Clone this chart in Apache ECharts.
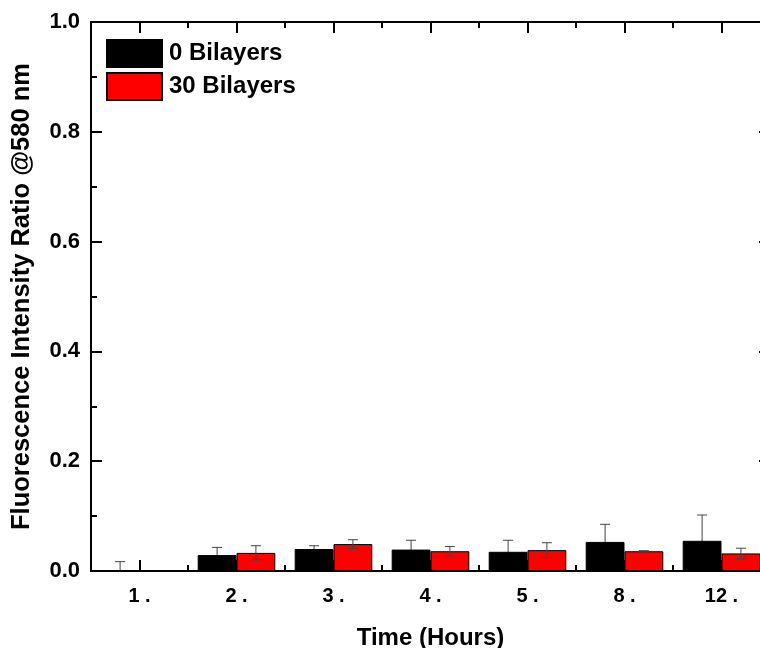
<!DOCTYPE html>
<html>
<head>
<meta charset="utf-8">
<script src="https://cdn.jsdelivr.net/npm/echarts@6/dist/echarts.min.js"></script>
<style>
html,body{margin:0;padding:0;background:#fff;}
#chart{width:760px;height:648px;}
</style>
</head>
<body>
<div id="chart"></div>
<script>
const categories = ['1 .', '2 .', '3 .', '4 .', '5 .', '8 .', '12 .'];
const bilayer0 = [0, 0.029, 0.040, 0.039, 0.035, 0.053, 0.055];
const bilayer0Err = [0.017, 0.014, 0.006, 0.017, 0.021, 0.032, 0.047];
const bilayer30 = [0, 0.033, 0.049, 0.036, 0.038, 0.036, 0.032];
const bilayer30Err = [0, 0.013, 0.008, 0.0085, 0.0135, 0.001, 0.0095];
const yTicks = [0, 0.2, 0.4, 0.6, 0.8, 1.0];

const FONT = 'Liberation Sans, Arial, sans-serif';

function errData(vals, errs) {
  return vals.map((v, i) => [i, v, errs[i]]);
}
function errRender(sign) {
  return function (params, api) {
    const x = api.value(0), y = api.value(1), e = api.value(2);
    if (!e) return null;
    const band = api.size([1, 0])[0];
    const off = sign * band * 0.2;
    const top = api.coord([x, y + e]);
    const bot = api.coord([x, y - e]);
    const cx = top[0] + off;
    const cap = 5;
    const st = { stroke: '#444', lineWidth: 1 };
    return {
      type: 'group',
      children: [
        { type: 'line', shape: { x1: cx, y1: top[1], x2: cx, y2: bot[1] }, style: st },
        { type: 'line', shape: { x1: cx - cap, y1: top[1], x2: cx + cap, y2: top[1] }, style: st },
        { type: 'line', shape: { x1: cx - cap, y1: bot[1], x2: cx + cap, y2: bot[1] }, style: st }
      ]
    };
  };
}

const chart = echarts.init(document.getElementById('chart'), null, { renderer: 'canvas' });
const axisLineStyle = { color: '#000', width: 2 };
const majorTick = { show: true, inside: true, alignWithLabel: true, interval: 0, length: 11, lineStyle: { color: '#000', width: 2 } };
const minorCatTick = { show: true, inside: true, alignWithLabel: false, interval: 0, length: 6, lineStyle: { color: '#000', width: 2 } };
const option = {
  animation: false,
  backgroundColor: '#fff',
  textStyle: { fontFamily: FONT },
  grid: { left: 91, width: 679, top: 22, height: 549, containLabel: false, outerBoundsMode: 'none' },
  legend: {
    orient: 'vertical',
    left: 101,
    top: 34,
    itemWidth: 55,
    itemHeight: 27,
    itemGap: 4,
    icon: 'rect',
    textStyle: { fontFamily: FONT, fontWeight: 'bold', fontSize: 24, color: '#000', padding: [0, 0, 0, 2] },
    data: ['0 Bilayers', '30 Bilayers']
  },
  xAxis: [
    {
      type: 'category', data: categories, position: 'bottom',
      name: 'Time (Hours)', nameLocation: 'middle', nameGap: 55,
      nameTextStyle: { fontFamily: FONT, fontWeight: 'bold', fontSize: 24, color: '#000' },
      axisLine: { show: true, onZero: false, lineStyle: axisLineStyle },
      axisTick: majorTick,
      axisLabel: { fontFamily: FONT, fontWeight: 'bold', fontSize: 20, color: '#000', margin: 15, interval: 0 },
      splitLine: { show: false }
    },
    {
      type: 'category', data: categories, position: 'top',
      axisLine: { show: true, onZero: false, lineStyle: axisLineStyle },
      axisTick: majorTick,
      axisLabel: { show: false },
      splitLine: { show: false }
    },
    {
      type: 'category', data: categories, position: 'bottom',
      axisLine: { show: false, onZero: false },
      axisTick: minorCatTick,
      axisLabel: { show: false },
      splitLine: { show: false }
    },
    {
      type: 'category', data: categories, position: 'top',
      axisLine: { show: false, onZero: false },
      axisTick: minorCatTick,
      axisLabel: { show: false },
      splitLine: { show: false }
    }
  ],
  yAxis: [
    {
      type: 'value', min: yTicks[0], max: yTicks[yTicks.length - 1], interval: 0.2, position: 'left',
      name: 'Fluorescence Intensity Ratio @580 nm', nameLocation: 'middle', nameGap: 56,
      nameTextStyle: { fontFamily: FONT, fontWeight: 'bold', fontSize: 25.5, color: '#000' },
      axisLine: { show: true, onZero: false, lineStyle: axisLineStyle },
      axisTick: { show: true, inside: true, length: 11, lineStyle: { color: '#000', width: 2 } },
      minorTick: { show: true, splitNumber: 2, length: 6, lineStyle: { color: '#000', width: 2 } },
      axisLabel: { fontFamily: FONT, fontWeight: 'bold', fontSize: 22, color: '#000', margin: 11,
        formatter: v => v.toFixed(1) },
      splitLine: { show: false }
    },
    {
      type: 'value', min: yTicks[0], max: yTicks[yTicks.length - 1], interval: 0.2, position: 'right',
      axisLine: { show: true, onZero: false, lineStyle: axisLineStyle },
      axisTick: { show: true, inside: true, length: 11, lineStyle: { color: '#000', width: 2 } },
      minorTick: { show: true, splitNumber: 2, length: 6, lineStyle: { color: '#000', width: 2 } },
      axisLabel: { show: false },
      splitLine: { show: false }
    }
  ],
  series: [
    {
      name: '0 Bilayers', type: 'bar', data: bilayer0, barGap: '0%', barCategoryGap: '20%',
      itemStyle: { color: '#000', borderColor: '#000', borderWidth: 1 }, z: 3
    },
    {
      name: '30 Bilayers', type: 'bar', data: bilayer30, barGap: '0%', barCategoryGap: '20%',
      itemStyle: { color: '#ff0000', borderColor: '#000', borderWidth: 1 }, z: 3
    },
    {
      type: 'custom', data: errData(bilayer0, bilayer0Err), renderItem: errRender(-1),
      clip: true, z: 2, silent: true
    },
    {
      type: 'custom', data: errData(bilayer30, bilayer30Err), renderItem: errRender(1),
      clip: true, z: 4, silent: true
    }
  ]
};
chart.setOption(option);
</script>
</body>
</html>
